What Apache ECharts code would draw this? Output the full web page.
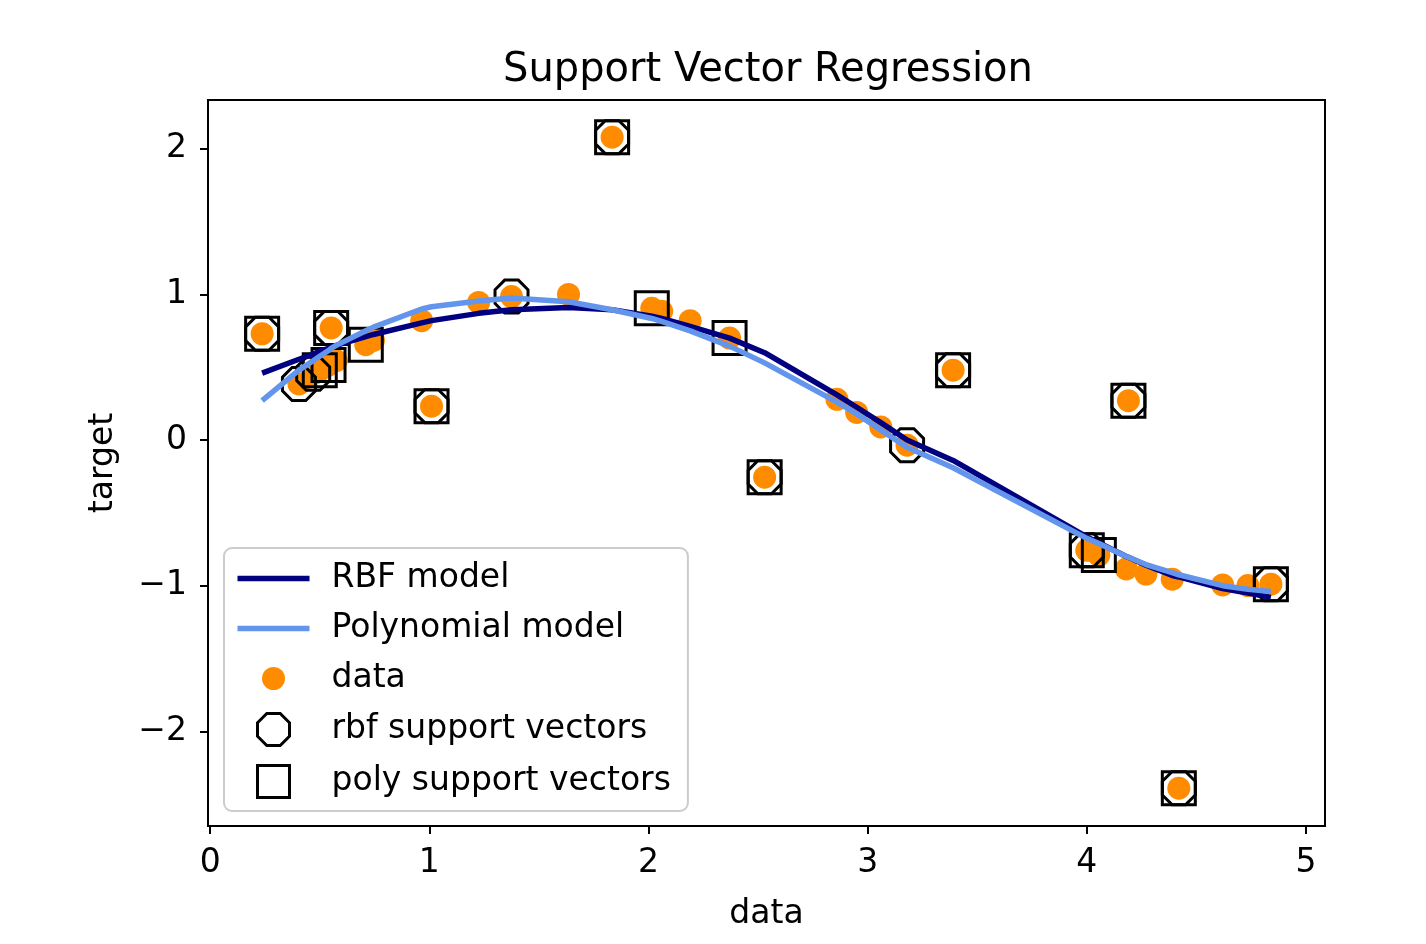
<!DOCTYPE html>
<html><head><meta charset="utf-8">
<script src="https://cdn.jsdelivr.net/npm/echarts@6/dist/echarts.min.js"></script>
<style>html,body{margin:0;padding:0;background:#fff}#c{width:1426px;height:944px}</style>
</head><body><div id="c"></div>
<script>
const dataX = [0.237,0.405,0.47,0.50,0.54,0.552,0.575,0.71,0.745,0.965,1.01,1.225,1.375,1.635,1.834,2.015,2.06,2.19,2.37,2.53,2.86,2.95,3.06,3.18,3.39,4.0,4.055,4.18,4.19,4.27,4.39,4.42,4.62,4.735,4.84];
const dataY = [0.73,0.385,0.455,0.48,0.515,0.77,0.545,0.655,0.685,0.82,0.233,0.945,0.985,1.0,2.08,0.905,0.885,0.82,0.70,-0.255,0.28,0.19,0.09,-0.035,0.48,-0.757,-0.79,-0.885,0.27,-0.92,-0.955,-2.39,-0.995,-0.999,-0.99];
const rbfFit = [0.46,0.555,0.59,0.61,0.63,0.64,0.65,0.71,0.725,0.805,0.82,0.87,0.895,0.91,0.895,0.85,0.835,0.78,0.70,0.60,0.31,0.225,0.12,0.0,-0.14,-0.665,-0.705,-0.80,-0.805,-0.86,-0.93,-0.94,-1.02,-1.05,-1.08];
const polyFit = [0.27,0.48,0.545,0.575,0.615,0.63,0.65,0.75,0.775,0.90,0.915,0.955,0.975,0.95,0.895,0.835,0.815,0.75,0.645,0.53,0.26,0.18,0.07,-0.05,-0.19,-0.675,-0.71,-0.80,-0.805,-0.855,-0.91,-0.925,-1.0,-1.025,-1.04];
const rbfSupport = [0,1,2,5,10,12,14,19,23,24,25,28,31,34];
const polySupport = [0,3,4,5,7,10,14,15,18,19,24,25,26,28,31,34];
const xTicks = [0,1,2,3,4,5];
const yTicks = [-2,-1,0,1,2];
const titleText = 'Support Vector Regression';
const xName = 'data';
const yName = 'target';

const FONT = 'DejaVu Sans';
const pts = dataX.map((x,i)=>[x,dataY[i]]);
const rbfLine = dataX.map((x,i)=>[x,rbfFit[i]]);
const polyLine = dataX.map((x,i)=>[x,polyFit[i]]);
const rbfPts = rbfSupport.map(i=>[dataX[i],dataY[i]]);
const polyPts = polySupport.map(i=>[dataX[i],dataY[i]]);
const octPath = 'path://M29.29,0L70.71,0L100,29.29L100,70.71L70.71,100L29.29,100L0,70.71L0,29.29Z';
const BOX = 'M0,0M89,36';
const icLine = 'path://'+BOX+'M0,15.25L72,15.25L72,20.75L0,20.75Z';
const icCircle = 'path://'+BOX+'M24.5,18A11.5,11.5,0,1,1,47.5,18A11.5,11.5,0,1,1,24.5,18Z';
const icOct = 'path://'+BOX+'M29.3,2L42.7,2L52,11.3L52,24.7L42.7,34L29.3,34L20,24.7L20,11.3Z';
const icSq = 'path://'+BOX+'M20,2L52,2L52,34L20,34Z';
const minus = v => String(v).replace('-', '\u2212');

const chart = echarts.init(document.getElementById('c'), null, {renderer:'canvas'});
chart.setOption({
  animation: false,
  backgroundColor: '#fff',
  title: {text: titleText, left: 763, top: 46, textAlign: 'center',
    textStyle: {fontFamily: FONT, fontSize: 40, fontWeight: 'normal', color: '#000'}},
  grid: {left: 208, right: 101, top: 100, bottom: 118, show: true, borderColor: '#000', borderWidth: 2, backgroundColor: 'transparent'},
  xAxis: {type: 'value', min: -0.01, max: 5.087,
    name: xName, nameLocation: 'middle', nameGap: 72,
    nameTextStyle: {fontFamily: FONT, fontSize: 33, color: '#000'},
    axisLine: {show: true, onZero: false, lineStyle: {color: '#000', width: 2}},
    axisTick: {show: true, length: 8, lineStyle: {color: '#000', width: 2}, customValues: xTicks},
    axisLabel: {fontFamily: FONT, fontSize: 33, color: '#000', margin: 21, customValues: xTicks, formatter: minus},
    splitLine: {show: false}},
  yAxis: {type: 'value', min: -2.65, max: 2.335,
    name: yName, nameLocation: 'middle', nameGap: 88, nameRotate: 90,
    nameTextStyle: {fontFamily: FONT, fontSize: 33, color: '#000'},
    axisLine: {show: true, onZero: false, lineStyle: {color: '#000', width: 2}},
    axisTick: {show: true, length: 8, lineStyle: {color: '#000', width: 2}, customValues: yTicks},
    axisLabel: {fontFamily: FONT, fontSize: 33, color: '#000', margin: 21, customValues: yTicks, formatter: minus},
    splitLine: {show: false}},
  legend: {orient: 'vertical', left: 224, top: 548, itemWidth: 89, itemHeight: 36, itemGap: 11,
    padding: [11, 17, 9, 11], backgroundColor: 'rgba(255,255,255,0.8)', borderColor: '#cccccc', borderWidth: 2, borderRadius: 8,
    textStyle: {fontFamily: FONT, fontSize: 33, color: '#000', lineHeight: 36},
    selectedMode: false,
    data: [
      {name: 'RBF model', icon: icLine, itemStyle: {color: '#000080', borderColor: 'rgba(0,0,0,0)', borderWidth: 3}},
      {name: 'Polynomial model', icon: icLine, itemStyle: {color: '#6495ED', borderColor: 'rgba(0,0,0,0)', borderWidth: 3}},
      {name: 'data', icon: icCircle, itemStyle: {color: '#FF8C00', borderColor: 'rgba(0,0,0,0)', borderWidth: 3}},
      {name: 'rbf support vectors', icon: icOct, itemStyle: {color: 'none', borderColor: '#000', borderWidth: 3}},
      {name: 'poly support vectors', icon: icSq, itemStyle: {color: 'none', borderColor: '#000', borderWidth: 3}}
    ]},
  series: [
    {name: 'data', type: 'scatter', data: pts, symbol: 'circle', symbolSize: 23, z: 2,
      itemStyle: {color: '#FF8C00', opacity: 1}, emphasis: {disabled: true}},
    {name: 'rbf support vectors', type: 'scatter', data: rbfPts, symbol: octPath, symbolSize: 33, symbolKeepAspect: true, z: 3,
      itemStyle: {color: 'none', borderColor: '#000', borderWidth: 3, opacity: 1}, emphasis: {disabled: true}},
    {name: 'poly support vectors', type: 'scatter', data: polyPts, symbol: 'rect', symbolSize: 33, z: 3,
      itemStyle: {color: 'none', borderColor: '#000', borderWidth: 3, opacity: 1}, emphasis: {disabled: true}},
    {name: 'RBF model', type: 'line', data: rbfLine, symbol: 'none', z: 4, color: '#000080',
      lineStyle: {color: '#000080', width: 5.5}, emphasis: {disabled: true}},
    {name: 'Polynomial model', type: 'line', data: polyLine, symbol: 'none', z: 5, color: '#6495ED',
      lineStyle: {color: '#6495ED', width: 5.5}, emphasis: {disabled: true}}
  ]
});
</script></body></html>
